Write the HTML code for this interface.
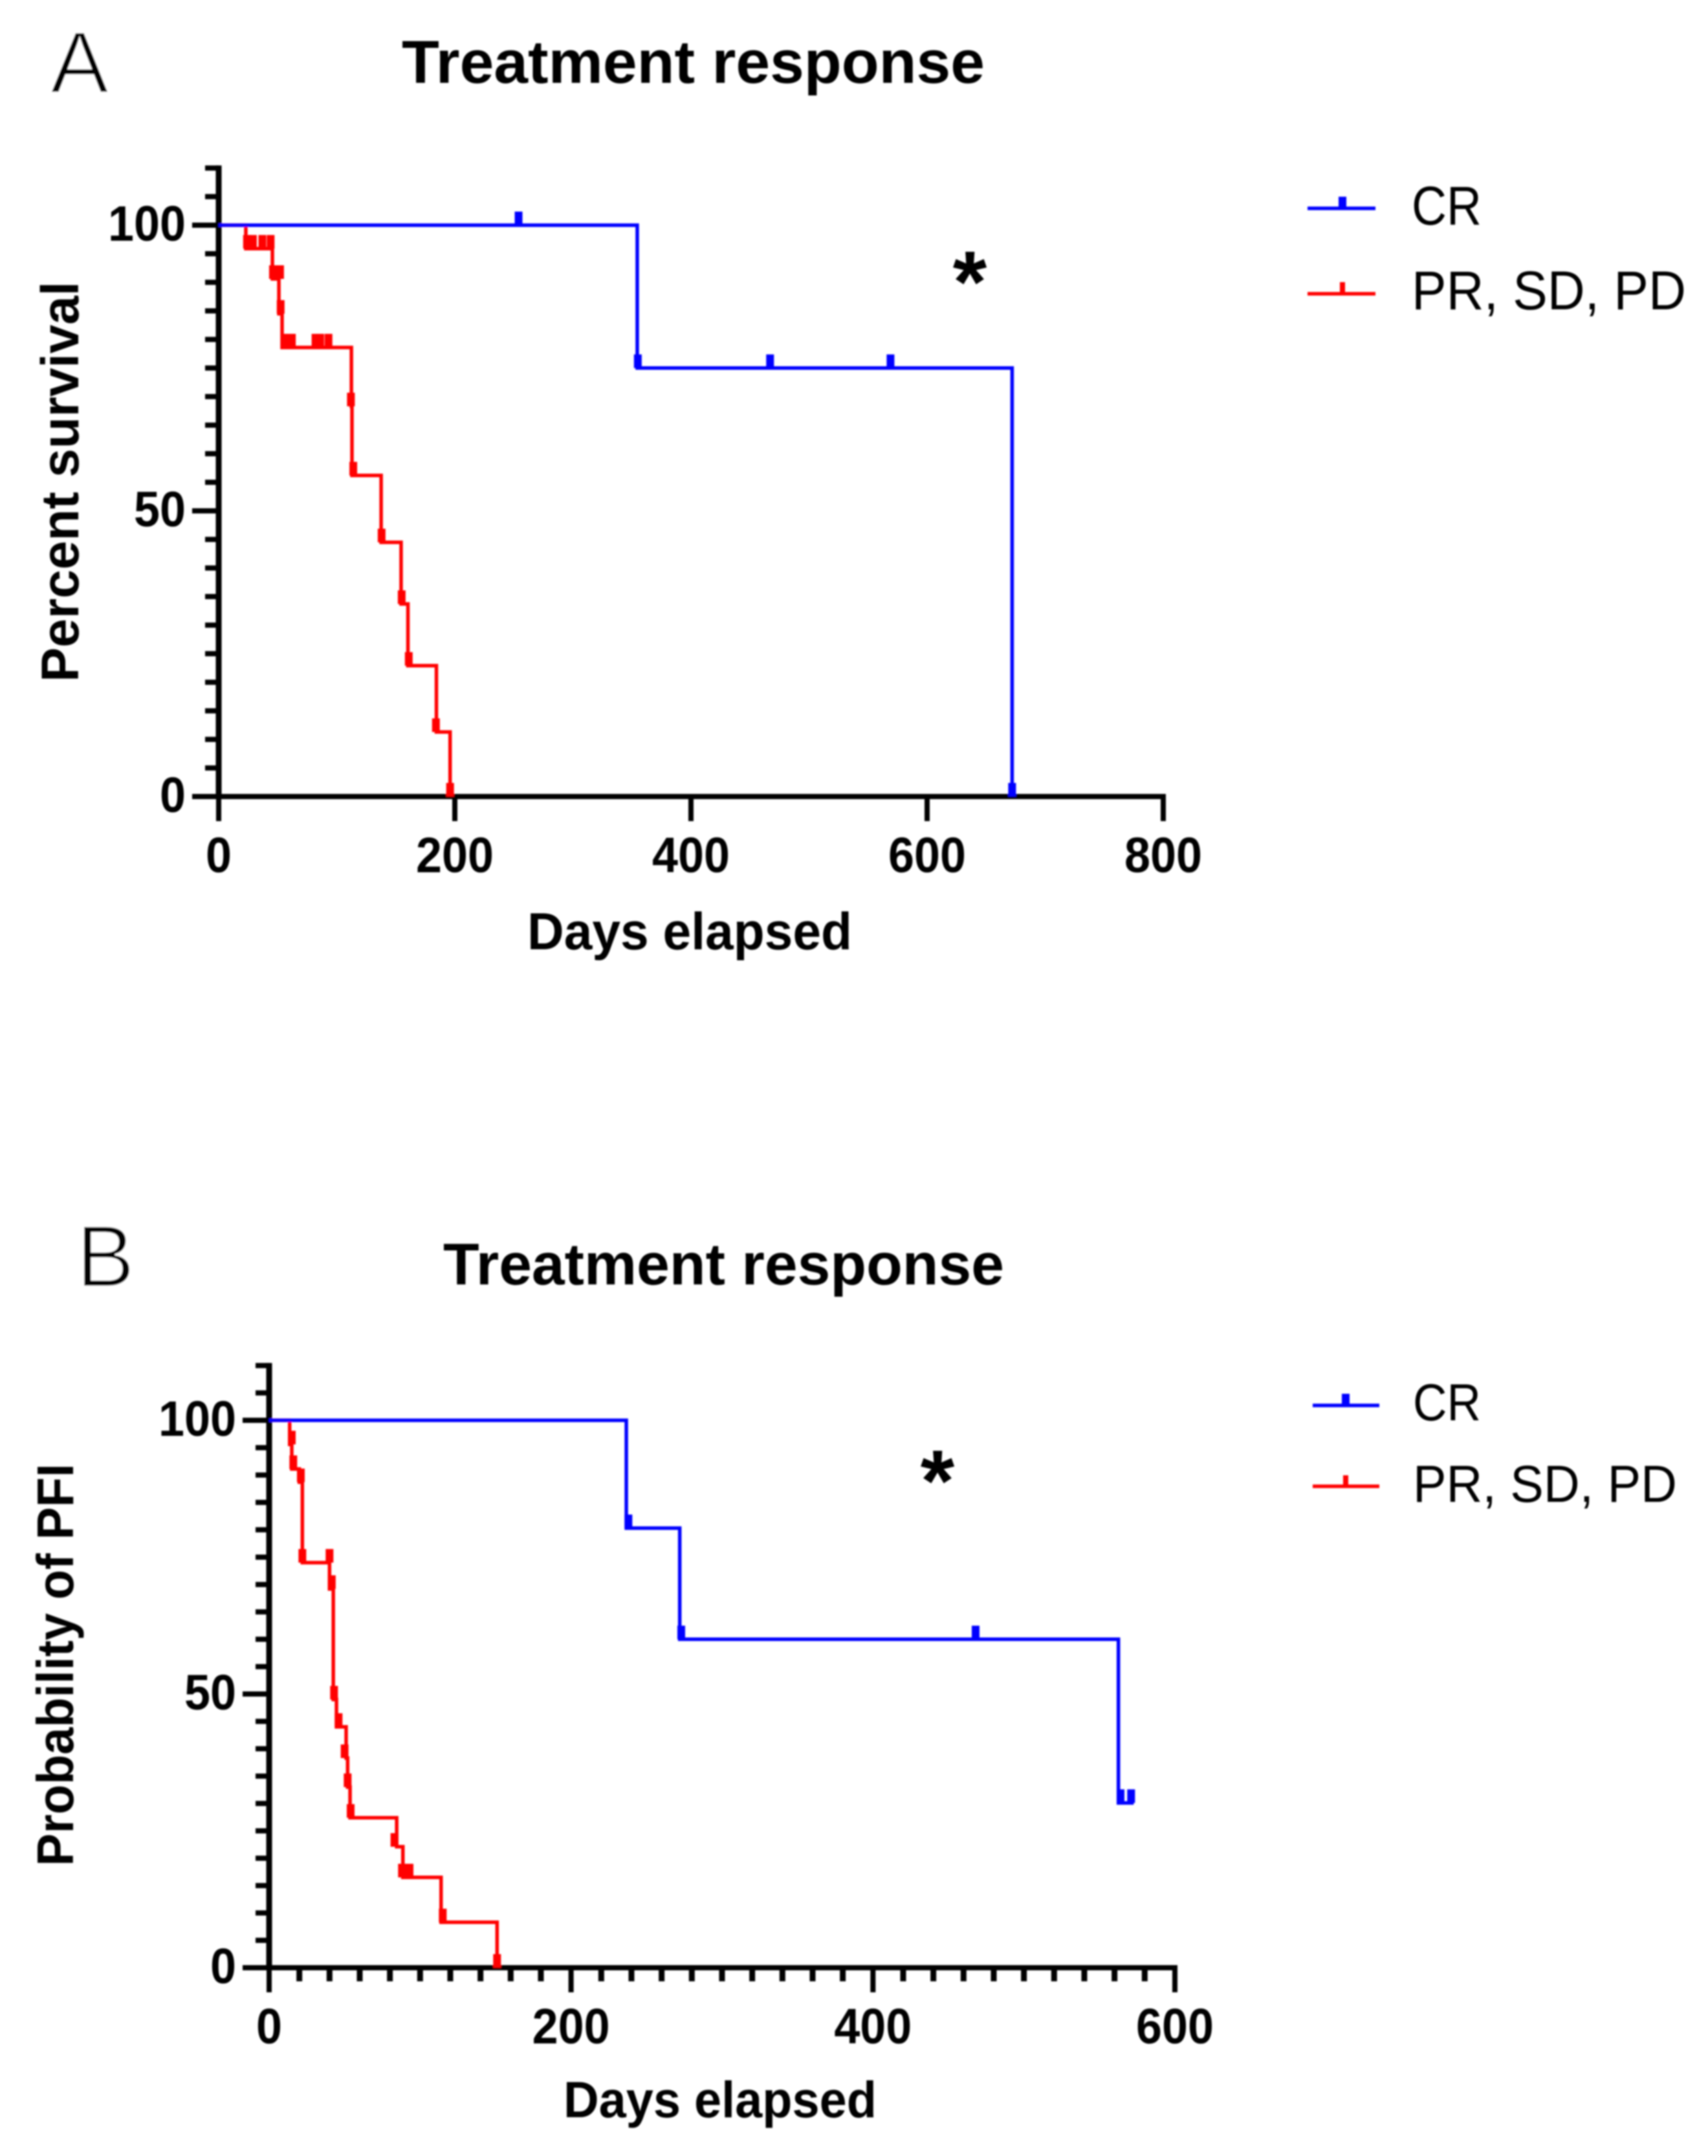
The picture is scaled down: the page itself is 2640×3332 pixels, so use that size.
<!DOCTYPE html>
<html lang="en">
<head>
<meta charset="utf-8">
<title>Treatment response survival curves</title>
<style>
  html, body { margin: 0; padding: 0; background: #fff; }
  body { width: 2640px; height: 3332px; overflow: hidden; }
  svg { display: block; }
  text { font-family: "Liberation Sans", Arial, sans-serif; fill: #000; }
</style>
</head>
<body>
<svg xmlns="http://www.w3.org/2000/svg" width="2640" height="3332" viewBox="0 0 2640 3332">
  <defs>
    <filter id="soft" x="-2%" y="-2%" width="104%" height="104%"><feGaussianBlur stdDeviation="1.4"/></filter>
  </defs>
  <rect width="2640" height="3332" fill="#fff"/>
  <g id="root" filter="url(#soft)">
    <text x="78" y="143" font-size="135" stroke="#fff" stroke-width="2.5">A</text>
    <text x="621" y="128" font-size="94" font-weight="700" textLength="901" lengthAdjust="spacingAndGlyphs">Treatment response</text>
    <text transform="translate(121 1054) rotate(-90)" font-size="82" font-weight="700" textLength="619" lengthAdjust="spacingAndGlyphs">Percent survival</text>
    <text x="815" y="1467" font-size="81" font-weight="700" textLength="502" lengthAdjust="spacingAndGlyphs">Days elapsed</text>
    <text x="1499" y="482" font-size="135" font-weight="700" text-anchor="middle">*</text>

    <g>
      <line x1="2021" y1="322" x2="2126" y2="322" stroke="#0000ff" stroke-width="5.5"/>
      <rect x="2069" y="304" width="12" height="18" fill="#0000ff"/>
      <text x="2182" y="347" font-size="84" textLength="108" lengthAdjust="spacingAndGlyphs">CR</text>
      <line x1="2021" y1="454" x2="2126" y2="454" stroke="#ff0000" stroke-width="5.5"/>
      <rect x="2071" y="436" width="8" height="18" fill="#ff0000"/>
      <text x="2182" y="478" font-size="84" textLength="424" lengthAdjust="spacingAndGlyphs">PR, SD, PD</text>
    </g>

    <text x="118" y="1988" font-size="135" stroke="#fff" stroke-width="2.5">B</text>
    <text x="685" y="1985" font-size="91" font-weight="700" textLength="867" lengthAdjust="spacingAndGlyphs">Treatment response</text>
    <text transform="translate(113 2884) rotate(-90)" font-size="80" font-weight="700" textLength="622" lengthAdjust="spacingAndGlyphs">Probability of PFI</text>
    <text x="871" y="3272" font-size="79" font-weight="700" textLength="484" lengthAdjust="spacingAndGlyphs">Days elapsed</text>
    <text x="1449" y="2335" font-size="135" font-weight="700" text-anchor="middle">*</text>

    <g>
      <line x1="2029" y1="2172" x2="2132" y2="2172" stroke="#0000ff" stroke-width="5.5"/>
      <rect x="2074" y="2154" width="12" height="18" fill="#0000ff"/>
      <text x="2184" y="2195" font-size="81" textLength="105" lengthAdjust="spacingAndGlyphs">CR</text>
      <line x1="2029" y1="2297" x2="2132" y2="2297" stroke="#ff0000" stroke-width="5.5"/>
      <rect x="2076" y="2280" width="8" height="17" fill="#ff0000"/>
      <text x="2184" y="2321" font-size="81" textLength="408" lengthAdjust="spacingAndGlyphs">PR, SD, PD</text>
    </g>

    <g id="panelA"></g>
    <g id="panelB"></g>
  </g>
</svg>
<script>
// ---- Panel A data: overall survival ----
var aXTicks = [0, 200, 400, 600, 800];
var aXMinorTicks = [];
var aYTicks = [0, 50, 100];
var aYMinorTicks = [5, 10, 15, 20, 25, 30, 35, 40, 45, 55, 60, 65, 70, 75, 80, 85, 90, 95, 105, 110];
var aCrDays = [0, 354.5, 672];
var aCrPercent = [100, 75, 0];
var aCrCensorDays = [254, 355, 467, 569, 672];
var aCrCensorPercent = [100, 75, 75, 75, 0];
var aOtherDays = [0, 23, 45.5, 51, 53.7, 112.4, 112.9, 137.6, 154.5, 160.3, 184.4, 196];
var aOtherPercent = [100, 95.9, 90.6, 84.5, 78.6, 68.3, 56.2, 44.5, 33.7, 22.9, 11.3, 0];
var aOtherCensorDays = [24, 29, 37, 44, 46, 52, 52.5, 56, 62, 82, 86, 93, 112, 114, 138, 155, 161, 184, 196];
var aOtherCensorPercent = [95.9, 95.9, 95.9, 95.9, 90.6, 90.6, 84.5, 78.6, 78.6, 78.6, 78.6, 78.6, 68.3, 56.2, 44.5, 33.7, 22.9, 11.3, 0];

// ---- Panel B data: progression-free interval ----
var bXTicks = [0, 200, 400, 600];
var bXMinorTicks = [20, 40, 60, 80, 100, 120, 140, 160, 180, 220, 240, 260, 280, 300, 320, 340, 360, 380, 420, 440, 460, 480, 500, 520, 540, 560, 580];
var bYTicks = [0, 50, 100];
var bYMinorTicks = [5, 10, 15, 20, 25, 30, 35, 40, 45, 55, 60, 65, 70, 75, 80, 85, 90, 95, 105, 110];
var bCrDays = [0, 236.6, 272, 562.6, 572.7];
var bCrPercent = [100, 80.3, 60, 30.1, 30.1];
var bCrCensorDays = [238, 273, 468, 564, 571];
var bCrCensorPercent = [80.3, 60, 60, 30.1, 30.1];
var bOtherDays = [0, 13.6, 15, 20, 22, 40, 42.5, 44.6, 51, 52, 53.6, 84.5, 88.6, 113.9, 151];
var bOtherPercent = [100, 95.6, 91.1, 88.7, 74, 69.2, 49, 44, 38.3, 33, 27.4, 22.1, 16.5, 8.3, 0];
var bOtherCensorDays = [15, 16, 21, 22, 40, 41.5, 43, 46, 50, 52, 54, 83, 88, 93, 115, 151];
var bOtherCensorPercent = [95.6, 91.1, 88.7, 74, 74, 69.2, 49, 44, 38.3, 33, 27.4, 22.1, 16.5, 16.5, 8.3, 0];

var SVG_NS = 'http://www.w3.org/2000/svg';

function make(tag, parent, attrs) {
  var el = document.createElementNS(SVG_NS, tag);
  for (var k in attrs) { el.setAttribute(k, attrs[k]); }
  parent.appendChild(el);
  return el;
}

function labelWidth(v) { return String(v).length * 40; }

function drawAxes(host, prefix, xScale, yScale, xMax, xTicks, xMinor, yTicks, yMinor) {
  var x0 = xScale(0), y0 = yScale(0);
  xMinor.forEach(function (v) {
    var t = make('rect', host, { x: xScale(v) - 4.5, y: y0, width: 9, height: 21, fill: '#000' });
    
    
  });
  xTicks.forEach(function (v) {
    var t = make('rect', host, { x: xScale(v) - 4, y: y0, width: 8, height: 38, fill: '#000' });
    
    
    var l = make('text', host, { x: xScale(v), y: y0 + 117, 'font-size': 77, 'font-weight': 700, 'text-anchor': 'middle', textLength: labelWidth(v), lengthAdjust: 'spacingAndGlyphs' });
    l.textContent = String(v);
    
    
  });
  yMinor.forEach(function (v) {
    var t = make('rect', host, { x: x0 - 21, y: yScale(v) - 4, width: 21, height: 8, fill: '#000' });
    
    
  });
  yTicks.forEach(function (v) {
    var t = make('rect', host, { x: x0 - 41, y: yScale(v) - 4, width: 41, height: 8, fill: '#000' });
    
    
    var l = make('text', host, { x: x0 - 51, y: yScale(v) + 24, 'font-size': 77, 'font-weight': 700, 'text-anchor': 'end', textLength: labelWidth(v), lengthAdjust: 'spacingAndGlyphs' });
    l.textContent = String(v);
    
    
  });
  var yAxis = make('rect', host, { x: x0 - 4.5, y: yScale(110) - 4, width: 9, height: y0 - yScale(110) + 8, fill: '#000' });
  
  
  var xAxis = make('rect', host, { x: x0 - 4, y: y0 - 4, width: xScale(xMax) - x0 + 8, height: 8, fill: '#000' });
  
  
}

function drawSeries(host, name, color, xScale, yScale, days, percent, censorDays, censorPercent) {
  var d = 'M' + xScale(days[0]) + ' ' + yScale(percent[0]);
  for (var i = 1; i < days.length; i++) {
    d += 'H' + xScale(days[i]) + 'V' + yScale(percent[i]);
  }
  var line = make('path', host, { d: d, fill: 'none', stroke: color, 'stroke-width': 5.5, 'stroke-linejoin': 'miter' });
  
  
  censorDays.forEach(function (day, j) {
    var m = make('rect', host, { x: xScale(day) - 6, y: yScale(censorPercent[j]) - 21, width: 12, height: 21, fill: color });
    
    
  });
}

function axA_x(v) { return 338 + v * 1.825; }
function axA_y(v) { return 1231 - v * 8.83; }
function axB_x(v) { return 416 + v * 2.3333; }
function axB_y(v) { return 3041 - v * 8.46; }

var hostA = document.getElementById('panelA');
drawAxes(hostA, 'panel-a', axA_x, axA_y, 800, aXTicks, aXMinorTicks, aYTicks, aYMinorTicks);
drawSeries(hostA, 'panel-a-pr-sd-pd', '#ff0000', axA_x, axA_y, aOtherDays, aOtherPercent, aOtherCensorDays, aOtherCensorPercent);
drawSeries(hostA, 'panel-a-cr', '#0000ff', axA_x, axA_y, aCrDays, aCrPercent, aCrCensorDays, aCrCensorPercent);

var hostB = document.getElementById('panelB');
drawAxes(hostB, 'panel-b', axB_x, axB_y, 600, bXTicks, bXMinorTicks, bYTicks, bYMinorTicks);
drawSeries(hostB, 'panel-b-pr-sd-pd', '#ff0000', axB_x, axB_y, bOtherDays, bOtherPercent, bOtherCensorDays, bOtherCensorPercent);
drawSeries(hostB, 'panel-b-cr', '#0000ff', axB_x, axB_y, bCrDays, bCrPercent, bCrCensorDays, bCrCensorPercent);
</script>
</body>
</html>
